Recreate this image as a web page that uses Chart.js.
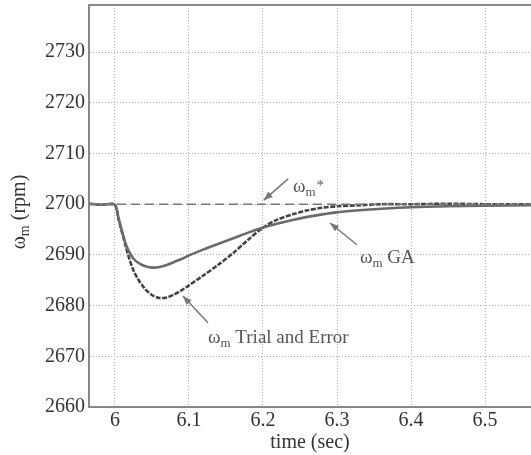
<!DOCTYPE html>
<html lang="en">
<head>
    <meta charset="UTF-8">
    <title>Speed response: GA vs Trial and Error</title>
    <script src="https://cdn.jsdelivr.net/npm/chart.js"></script>
    <style>
        body { margin: 0; background: #fff; }
    </style>
</head>
<body>
    <canvas id="speedChart" width="531" height="455"></canvas>

    <script>
        // time axis (sec) and the speed readings (rpm)
        const time = [5.965, 5.98, 5.99, 6.0, 6.005, 6.01, 6.015, 6.02, 6.025, 6.03, 6.04, 6.05, 6.06, 6.07, 6.08, 6.09, 6.10, 6.12, 6.14, 6.16, 6.18, 6.20, 6.22, 6.24, 6.26, 6.28, 6.30, 6.33, 6.36, 6.40, 6.45, 6.50, 6.562];
        const omegaGA = [2700.1, 2699.9, 2700.0, 2699.9, 2697.2, 2694.5, 2692.0, 2690.4, 2689.3, 2688.6, 2687.8, 2687.5, 2687.6, 2688.0, 2688.6, 2689.2, 2689.9, 2691.1, 2692.2, 2693.3, 2694.4, 2695.4, 2696.2, 2696.9, 2697.5, 2698.0, 2698.4, 2698.8, 2699.1, 2699.4, 2699.6, 2699.7, 2699.8];
        const omegaTE = [2700.1, 2699.9, 2700.0, 2699.9, 2697.0, 2694.2, 2691.5, 2689.0, 2687.0, 2685.5, 2683.4, 2682.1, 2681.5, 2681.6, 2682.2, 2683.0, 2684.0, 2686.0, 2688.1, 2690.4, 2693.0, 2695.4, 2697.0, 2698.0, 2698.8, 2699.3, 2699.6, 2699.8, 2700.0, 2700.0, 2700.1, 2700.0, 2700.0];
        const refTime = [5.965, 6.562];
        const omegaRef = [2700, 2700];

        const xTicks = [6, 6.1, 6.2, 6.3, 6.4, 6.5];
        const yTicks = [2660, 2670, 2680, 2690, 2700, 2710, 2720, 2730];

        // annotation text + arrow (tail -> tip), in data units
        const notes = [
            { main: 'ω', sub: 'm', rest: '*', at: [6.2405, 2703.4], tail: [6.234, 2705.0], tip: [6.201, 2700.8] },
            { main: 'ω', sub: 'm', rest: ' GA', at: [6.331, 2689.3], tail: [6.327, 2692.0], tip: [6.2905, 2696.3] },
            { main: 'ω', sub: 'm', rest: ' Trial and Error', at: [6.1257, 2673.6], tail: [6.1257, 2676.6], tip: [6.0919, 2681.9] }
        ];

        const serif = '"Liberation Serif", "DejaVu Serif", serif';

        const pts = (xs, ys) => xs.map((x, i) => ({ x: x, y: ys[i] }));

        function drawSubText(ctx, x, y, main, sub, rest, size, align) {
            ctx.font = size + 'px ' + serif;
            ctx.textBaseline = 'middle';
            ctx.textAlign = 'left';
            const w1 = ctx.measureText(main).width;
            ctx.font = Math.round(size * 0.7) + 'px ' + serif;
            const w2 = ctx.measureText(sub).width;
            ctx.font = size + 'px ' + serif;
            const w3 = ctx.measureText(rest).width;
            let x0 = align === 'center' ? x - (w1 + w2 + w3) / 2 : x;
            ctx.fillText(main, x0, y);
            ctx.font = Math.round(size * 0.7) + 'px ' + serif;
            ctx.fillText(sub, x0 + w1, y + size * 0.28);
            ctx.font = size + 'px ' + serif;
            if (rest === '*') {
                ctx.font = Math.round(size * 0.8) + 'px ' + serif;
                ctx.fillText(rest, x0 + w1 + w2 + 1, y - 1);
            } else {
                ctx.fillText(rest, x0 + w1 + w2, y);
            }
        }

        const extras = {
            id: 'extras',
            afterDraw(chart) {
                const ctx = chart.ctx;
                const xs = chart.scales.x, ys = chart.scales.y;
                const area = chart.chartArea;
                ctx.save();
                // top frame line
                ctx.strokeStyle = '#888';
                ctx.lineWidth = 2;
                ctx.beginPath();
                ctx.moveTo(area.left, area.top);
                ctx.lineTo(area.right, area.top);
                ctx.stroke();

                // annotations
                notes.forEach(n => {
                    const tx = xs.getPixelForValue(n.tail[0]), ty = ys.getPixelForValue(n.tail[1]);
                    const hx = xs.getPixelForValue(n.tip[0]), hy = ys.getPixelForValue(n.tip[1]);
                    ctx.strokeStyle = '#777';
                    ctx.fillStyle = '#777';
                    ctx.lineWidth = 1.5;
                    ctx.beginPath();
                    ctx.moveTo(tx, ty);
                    ctx.lineTo(hx, hy);
                    ctx.stroke();
                    const a = Math.atan2(hy - ty, hx - tx);
                    const L = 9, W = 3.5;
                    ctx.beginPath();
                    ctx.moveTo(hx, hy);
                    ctx.lineTo(hx - L * Math.cos(a) + W * Math.sin(a), hy - L * Math.sin(a) - W * Math.cos(a));
                    ctx.lineTo(hx - L * Math.cos(a) - W * Math.sin(a), hy - L * Math.sin(a) + W * Math.cos(a));
                    ctx.closePath();
                    ctx.fill();

                    ctx.fillStyle = '#555';
                    drawSubText(ctx, xs.getPixelForValue(n.at[0]), ys.getPixelForValue(n.at[1]), n.main, n.sub, n.rest, 19, 'left');
                });

                // y axis title (rotated)
                ctx.translate(20, (area.top + area.bottom) / 2 + 6);
                ctx.rotate(-Math.PI / 2);
                ctx.fillStyle = '#333';
                drawSubText(ctx, 0, 0, 'ω', 'm', ' (rpm)', 20, 'center');
                ctx.restore();
            }
        };

        const ctx = document.getElementById('speedChart').getContext('2d');
        const speedChart = new Chart(ctx, {
            type: 'line',
            data: {
                datasets: [
                    {
                        label: 'reference',
                        data: pts(refTime, omegaRef),
                        borderColor: '#777',
                        borderWidth: 1.3,
                        borderDash: [9, 5],
                        pointRadius: 0
                    },
                    {
                        label: 'GA',
                        data: pts(time, omegaGA),
                        borderColor: '#6a6a6a',
                        borderWidth: 2.6,
                        pointRadius: 0,
                        tension: 0.3
                    },
                    {
                        label: 'Trial and Error',
                        data: pts(time, omegaTE),
                        borderColor: '#444',
                        borderWidth: 2.6,
                        borderDash: [5, 1.5],
                        pointRadius: 0,
                        tension: 0.3
                    }
                ]
            },
            options: {
                responsive: false,
                animation: false,
                layout: { padding: { top: 5, right: 0, left: 0, bottom: 0 } },
                plugins: {
                    legend: { display: false },
                    tooltip: { enabled: false }
                },
                scales: {
                    x: {
                        type: 'linear',
                        min: 5.965,
                        max: 6.562,
                        afterBuildTicks: s => { s.ticks = xTicks.map(v => ({ value: v })); },
                        afterFit: s => { s.height = 48; s.paddingLeft = 0; s.paddingRight = 0; },
                        grid: { color: '#aaa', drawTicks: false },
                        border: { display: true, color: '#888', width: 2, dash: [1, 2] },
                        ticks: {
                            color: '#333',
                            padding: 2,
                            maxRotation: 0,
                            font: { family: serif, size: 20 },
                            callback: v => String(v)
                        },
                        title: {
                            display: true,
                            text: 'time (sec)',
                            color: '#333',
                            padding: { top: 0, bottom: 0 },
                            font: { family: serif, size: 20 }
                        }
                    },
                    y: {
                        min: 2660,
                        max: 2739.3,
                        afterBuildTicks: s => { s.ticks = yTicks.map(v => ({ value: v })); },
                        afterFit: s => { s.width = 89; s.paddingTop = 0; s.paddingBottom = 0; },
                        grid: { color: '#aaa', drawTicks: false },
                        border: { display: true, color: '#888', width: 2, dash: [1, 2] },
                        ticks: {
                            color: '#333',
                            padding: 4,
                            font: { family: serif, size: 20 },
                            callback: v => String(v)
                        }
                    }
                }
            },
            plugins: [extras]
        });
    </script>
</body>
</html>
